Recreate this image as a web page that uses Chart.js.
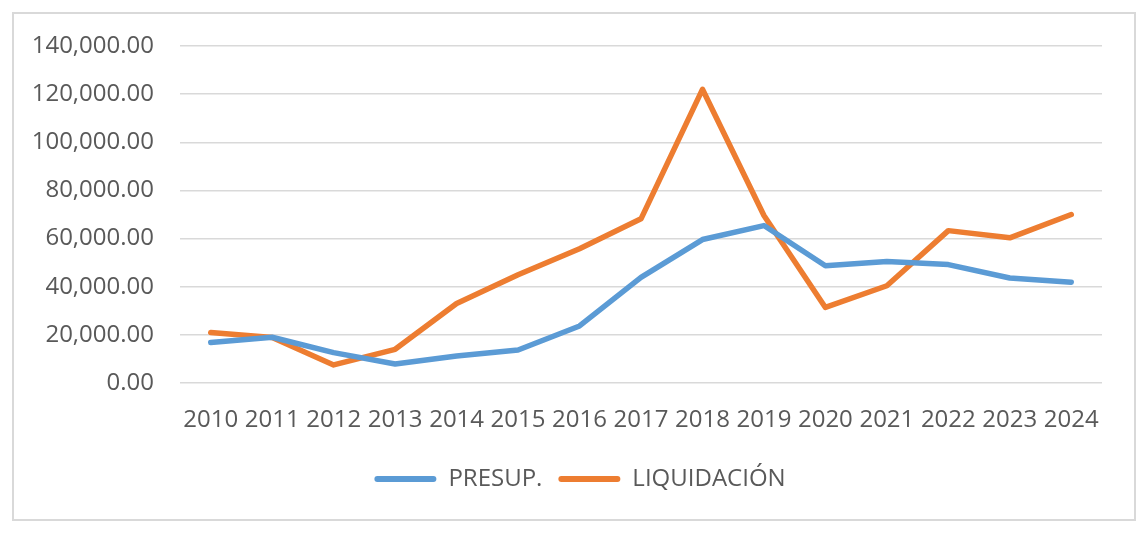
<!DOCTYPE html>
<html>
<head>
<meta charset="utf-8">
<script src="https://cdn.jsdelivr.net/npm/chart.js@4"></script>
<style>
  html, body { margin: 0; padding: 0; background: #fff; }
  #frame { position: absolute; left: 12px; top: 12px; width: 1120px; height: 505px; border: 2px solid #D9D9D9; }
  #c { position: absolute; left: 0; top: 0; }
</style>
</head>
<body>
<div id="frame"></div>
<canvas id="c" width="1148" height="533"></canvas>
<script>
const years = ['2010','2011','2012','2013','2014','2015','2016','2017','2018','2019','2020','2021','2022','2023','2024'];
const presup = [16800, 19000, 12600, 7900, 11200, 13700, 23700, 43900, 59600, 65400, 48700, 50500, 49200, 43600, 41900];
const liquidacion = [21000, 18900, 7500, 14000, 33000, 45000, 55800, 68200, 122000, 69600, 31400, 40400, 63300, 60300, 70000];
const seriesNames = ['PRESUP.', 'LIQUIDACIÓN'];
const yTicks = { min: 0, max: 140000, step: 20000 };

const FONT = { family: '"Open Sans", sans-serif', size: 24 };
const TXT = '#595959';

const legendShift = {
  id: 'legendShift',
  afterLayout(chart) {
    if (chart.legend) { chart.legend.left += 19; chart.legend.right += 19; }
  }
};

new Chart(document.getElementById('c'), {
  type: 'line',
  data: {
    labels: years,
    datasets: [
      { label: seriesNames[0], data: presup, borderColor: '#5B9BD5', backgroundColor: '#5B9BD5' },
      { label: seriesNames[1], data: liquidacion, borderColor: '#ED7D31', backgroundColor: '#ED7D31' }
    ]
  },
  plugins: [legendShift],
  options: {
    responsive: false,
    animation: false,
    devicePixelRatio: 1,
    layout: { padding: { left: 20, right: 46, top: 46, bottom: 32 } },
    elements: {
      line: { borderWidth: 5.5, tension: 0, borderCapStyle: 'round', borderJoinStyle: 'round' },
      point: { radius: 0, hoverRadius: 0 }
    },
    scales: {
      x: {
        offset: true,
        afterFit: s => { s.height = 68; },
        grid: { display: false, drawTicks: false },
        border: { display: false },
        ticks: { color: TXT, font: FONT, padding: 23, maxRotation: 0, autoSkip: false }
      },
      y: {
        min: yTicks.min, max: yTicks.max,
        afterFit: s => { s.width = 160; },
        grid: { color: '#D9D9D9', lineWidth: 1.5, drawTicks: false },
        border: { display: false },
        ticks: {
          stepSize: yTicks.step, color: TXT, font: FONT, padding: 26,
          callback: v => v.toLocaleString('en-US', { minimumFractionDigits: 2, maximumFractionDigits: 2 })
        }
      }
    },
    plugins: {
      tooltip: { enabled: false },
      legend: {
        position: 'bottom',
        labels: {
          color: TXT, font: FONT, boxWidth: 62, boxHeight: 6, padding: 16,
          useBorderRadius: true, borderRadius: 3,
          generateLabels: chart => Chart.defaults.plugins.legend.labels.generateLabels(chart)
            .map(l => Object.assign(l, { lineWidth: 0, fillStyle: l.strokeStyle }))
        }
      }
    }
  }
});
</script>
</body>
</html>
